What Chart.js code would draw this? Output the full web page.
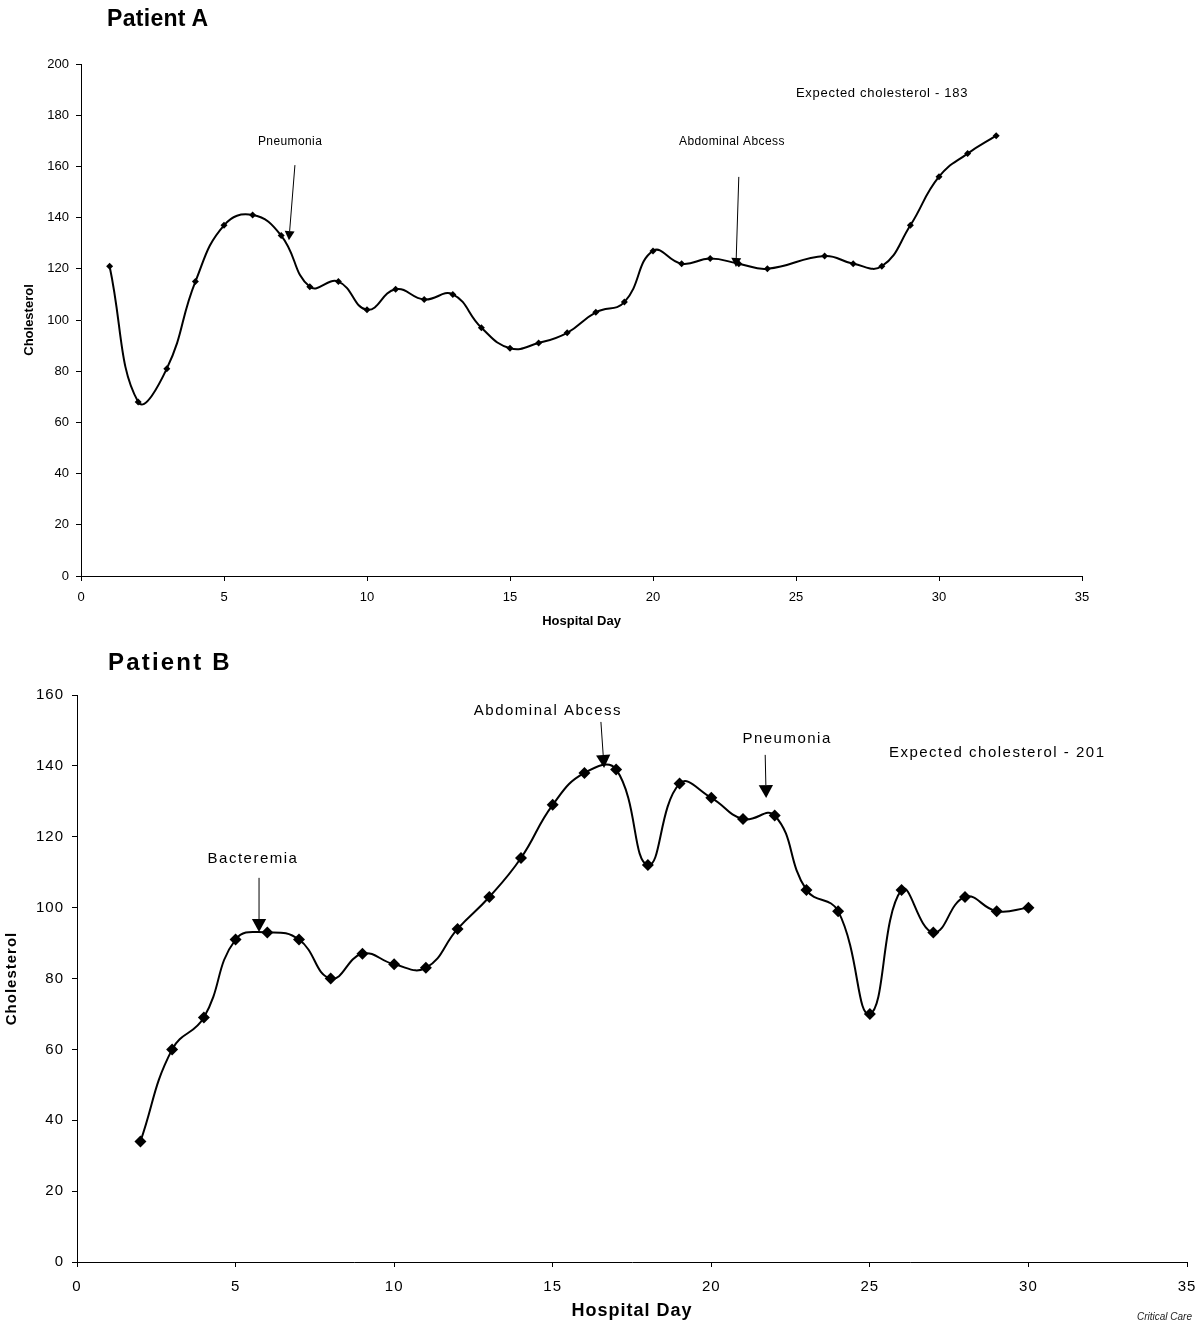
<!DOCTYPE html>
<html>
<head>
<meta charset="utf-8">
<title>Cholesterol by hospital day</title>
<script src="https://cdn.jsdelivr.net/npm/chart.js@4.4.1/dist/chart.umd.min.js"></script>
<style>
    body { margin: 0; background: #fff; font-family: 'Liberation Sans', Arial, sans-serif; }
    .page { position: relative; width: 1200px; height: 1323px; overflow: hidden; }
    .panel { position: absolute; left: 0; width: 1200px; }
    #panelA { top: 0; height: 640px; }
    #panelB { top: 640px; height: 683px; }
    .heading { position: absolute; font-weight: bold; color: #000; line-height: 1; white-space: nowrap; }
    #headA { left: 107px; top: 7px; font-size: 23px; letter-spacing: 0.3px; }
    #headB { left: 108px; top: 10px; font-size: 24px; letter-spacing: 2.2px; }
    .source { position: absolute; right: 8px; top: 671px; font-size: 10px; font-style: italic; color: #222; }
    canvas { position: absolute; left: 0; top: 0; }
</style>
</head>
<body>
<div class="page">
    <div class="panel" id="panelA">
        <canvas id="chartA" width="1200" height="640"></canvas>
        <div class="heading" id="headA">Patient A</div>
    </div>
    <div class="panel" id="panelB">
        <canvas id="chartB" width="1200" height="683"></canvas>
        <div class="heading" id="headB">Patient B</div>
        <div class="source">Critical Care</div>
    </div>
</div>

<script>
// ===== DATA =====

// Patient A (no reading on day 25)
const daysA = [1, 2, 3, 4, 5, 6, 7, 8, 9, 10, 11, 12, 13, 14, 15, 16, 17, 18, 19, 20, 21, 22, 23, 24, 26, 27, 28, 29, 30, 31, 32];
const cholA = [121, 68, 81, 115, 137, 141, 133, 113, 115, 104, 112, 108, 110, 97, 89, 91, 95, 103, 107, 127, 122, 124, 122, 120, 125, 122, 121, 137, 156, 165, 172];

// Patient B
const daysB = [2, 3, 4, 5, 6, 7, 8, 9, 10, 11, 12, 13, 14, 15, 16, 17, 18, 19, 20, 21, 22, 23, 24, 25, 26, 27, 28, 29, 30];
const cholB = [34, 60, 69, 91, 93, 91, 80, 87, 84, 83, 94, 103, 114, 129, 138, 139, 112, 135, 131, 125, 126, 105, 99, 70, 105, 93, 103, 99, 100];

// Tick labels
const dayTicks = [0, 5, 10, 15, 20, 25, 30, 35];
const cholTicksA = [0, 20, 40, 60, 80, 100, 120, 140, 160, 180, 200];
const cholTicksB = [0, 20, 40, 60, 80, 100, 120, 140, 160];

// Event labels, anchored in (day, cholesterol) units
const eventsA = [
    { text: 'Pneumonia', at: [7.31, 169.5], from: [7.48, 160.5], to: [7.27, 131.2] },
    { text: 'Abdominal Abcess', at: [22.76, 169.5], from: [23.0, 155.9], to: [22.9, 120.7] },
    { text: 'Expected cholesterol - 183', at: [25.0, 188.7] }
];
const eventsB = [
    { text: 'Bacteremia', at: [5.55, 113.7], from: [5.74, 108.4], to: [5.74, 93.1] },
    { text: 'Abdominal Abcess', at: [14.85, 155.5], from: [16.52, 152.4], to: [16.62, 139.4] },
    { text: 'Pneumonia', at: [22.39, 147.6], from: [21.7, 143.1], to: [21.73, 130.9] },
    { text: 'Expected cholesterol - 201', at: [25.6, 143.6] }
];

// ===== CHART HELPERS =====

const FONT = "'Liberation Sans', Arial, sans-serif";

// Draw event labels with arrows pointing at the curve
const calloutPlugin = {
    id: 'callouts',
    beforeDraw(chart, args, opts) {
        chart.ctx.letterSpacing = opts.chartSpacing || '0px';
    },
    afterDatasetsDraw(chart, args, opts) {
        const ctx = chart.ctx;
        const x = chart.scales.x;
        const y = chart.scales.y;
        ctx.save();
        ctx.fillStyle = '#000';
        ctx.strokeStyle = '#000';
        ctx.textBaseline = 'middle';
        opts.items.forEach(item => {
            const tx = x.getPixelForValue(item.at[0]);
            const ty = y.getPixelForValue(item.at[1]);
            if (!item.from) {
                // plain note, no arrow
                ctx.font = opts.noteFont;
                ctx.letterSpacing = opts.noteSpacing;
                ctx.textAlign = 'left';
                ctx.fillText(item.text, tx, ty);
                return;
            }
            ctx.font = opts.font;
            ctx.letterSpacing = opts.spacing;
            ctx.textAlign = 'center';
            ctx.fillText(item.text, tx, ty);

            const x0 = x.getPixelForValue(item.from[0]);
            const y0 = y.getPixelForValue(item.from[1]);
            const x1 = x.getPixelForValue(item.to[0]);
            const y1 = y.getPixelForValue(item.to[1]);
            const ang = Math.atan2(y1 - y0, x1 - x0);
            const len = opts.head;
            const half = opts.head * 0.55;
            const bx = x1 - Math.cos(ang) * len;
            const by = y1 - Math.sin(ang) * len;

            ctx.lineWidth = 1;
            ctx.beginPath();
            ctx.moveTo(x0, y0);
            ctx.lineTo(bx, by);
            ctx.stroke();

            ctx.beginPath();
            ctx.moveTo(x1, y1);
            ctx.lineTo(bx + Math.sin(ang) * half, by - Math.cos(ang) * half);
            ctx.lineTo(bx - Math.sin(ang) * half, by + Math.cos(ang) * half);
            ctx.closePath();
            ctx.fill();
        });
        ctx.restore();
    }
};

function makePoints(days, values) {
    return days.map((d, i) => ({ x: d, y: values[i] }));
}

function createChart(canvasId, cfg) {
    const ctx = document.getElementById(canvasId);
    if (!ctx || typeof Chart === 'undefined') return;

    new Chart(ctx, {
        type: 'line',
        data: {
            datasets: [{
                data: makePoints(cfg.days, cfg.values),
                borderColor: '#000',
                backgroundColor: '#000',
                borderWidth: 2,
                tension: 0.45,
                pointStyle: 'rectRot',
                pointRadius: cfg.pointRadius,
                pointHoverRadius: cfg.pointRadius,
                pointBorderWidth: 0,
                pointBackgroundColor: '#000',
                fill: false
            }]
        },
        options: {
            responsive: false,
            animation: false,
            events: [],
            layout: { padding: cfg.padding },
            plugins: {
                legend: { display: false },
                tooltip: { enabled: false },
                callouts: cfg.callouts
            },
            scales: {
                x: {
                    type: 'linear',
                    min: 0,
                    max: 35,
                    afterBuildTicks: s => { s.ticks = dayTicks.map(v => ({ value: v })); },
                    afterFit: s => {
                        s.height = cfg.xHeight;
                        // let the layout padding alone decide the side margins
                        s.paddingLeft = 0;
                        s.paddingRight = 0;
                    },
                    grid: { drawOnChartArea: false, drawTicks: true, tickLength: 5, color: '#000' },
                    border: { display: true, color: '#000', width: 1 },
                    ticks: { color: '#000', font: { family: FONT, size: cfg.tickSize }, padding: cfg.xTickPad, maxRotation: 0 },
                    title: {
                        display: true,
                        text: 'Hospital Day',
                        color: '#000',
                        font: { family: FONT, size: cfg.xTitleSize, weight: 'bold' },
                        padding: { top: 0, bottom: cfg.xTitlePad }
                    }
                },
                y: {
                    min: 0,
                    max: cfg.yTicks[cfg.yTicks.length - 1],
                    afterBuildTicks: s => { s.ticks = cfg.yTicks.map(v => ({ value: v })); },
                    afterFit: s => { s.width = cfg.yWidth; },
                    grid: { drawOnChartArea: false, drawTicks: true, tickLength: 5, color: '#000' },
                    border: { display: true, color: '#000', width: 1 },
                    ticks: { color: '#000', font: { family: FONT, size: cfg.tickSize }, padding: cfg.yTickPad },
                    title: {
                        display: true,
                        text: 'Cholesterol',
                        color: '#000',
                        font: { family: FONT, size: cfg.yTitleSize, weight: 'bold' },
                        padding: { top: cfg.yTitlePad, bottom: 0 }
                    }
                }
            }
        },
        plugins: [calloutPlugin]
    });
}

// ===== BUILD CHARTS =====

document.addEventListener('DOMContentLoaded', function() {
    createChart('chartA', {
        days: daysA,
        values: cholA,
        yTicks: cholTicksA,
        pointRadius: 3.5,
        padding: { left: 0, top: 64, right: 118, bottom: 0 },
        xHeight: 64,
        yWidth: 81,
        tickSize: 13,
        xTickPad: 9,
        yTickPad: 7,
        xTitleSize: 13,
        xTitlePad: 11,
        yTitleSize: 13,
        yTitlePad: 22,
        callouts: {
            items: eventsA,
            font: '12px ' + FONT,
            spacing: '0.4px',
            noteFont: '13px ' + FONT,
            noteSpacing: '0.7px',
            chartSpacing: '0px',
            head: 9
        }
    });

    createChart('chartB', {
        days: daysB,
        values: cholB,
        yTicks: cholTicksB,
        pointRadius: 6,
        padding: { left: 0, top: 55, right: 13, bottom: 0 },
        xHeight: 61,
        yWidth: 77,
        tickSize: 15,
        xTickPad: 11,
        yTickPad: 8,
        xTitleSize: 18,
        xTitlePad: 1,
        yTitleSize: 15,
        yTitlePad: 3,
        callouts: {
            items: eventsB,
            font: '15px ' + FONT,
            spacing: '1.5px',
            noteFont: '15px ' + FONT,
            noteSpacing: '1.5px',
            chartSpacing: '1px',
            head: 13
        }
    });
});
</script>
</body>
</html>
